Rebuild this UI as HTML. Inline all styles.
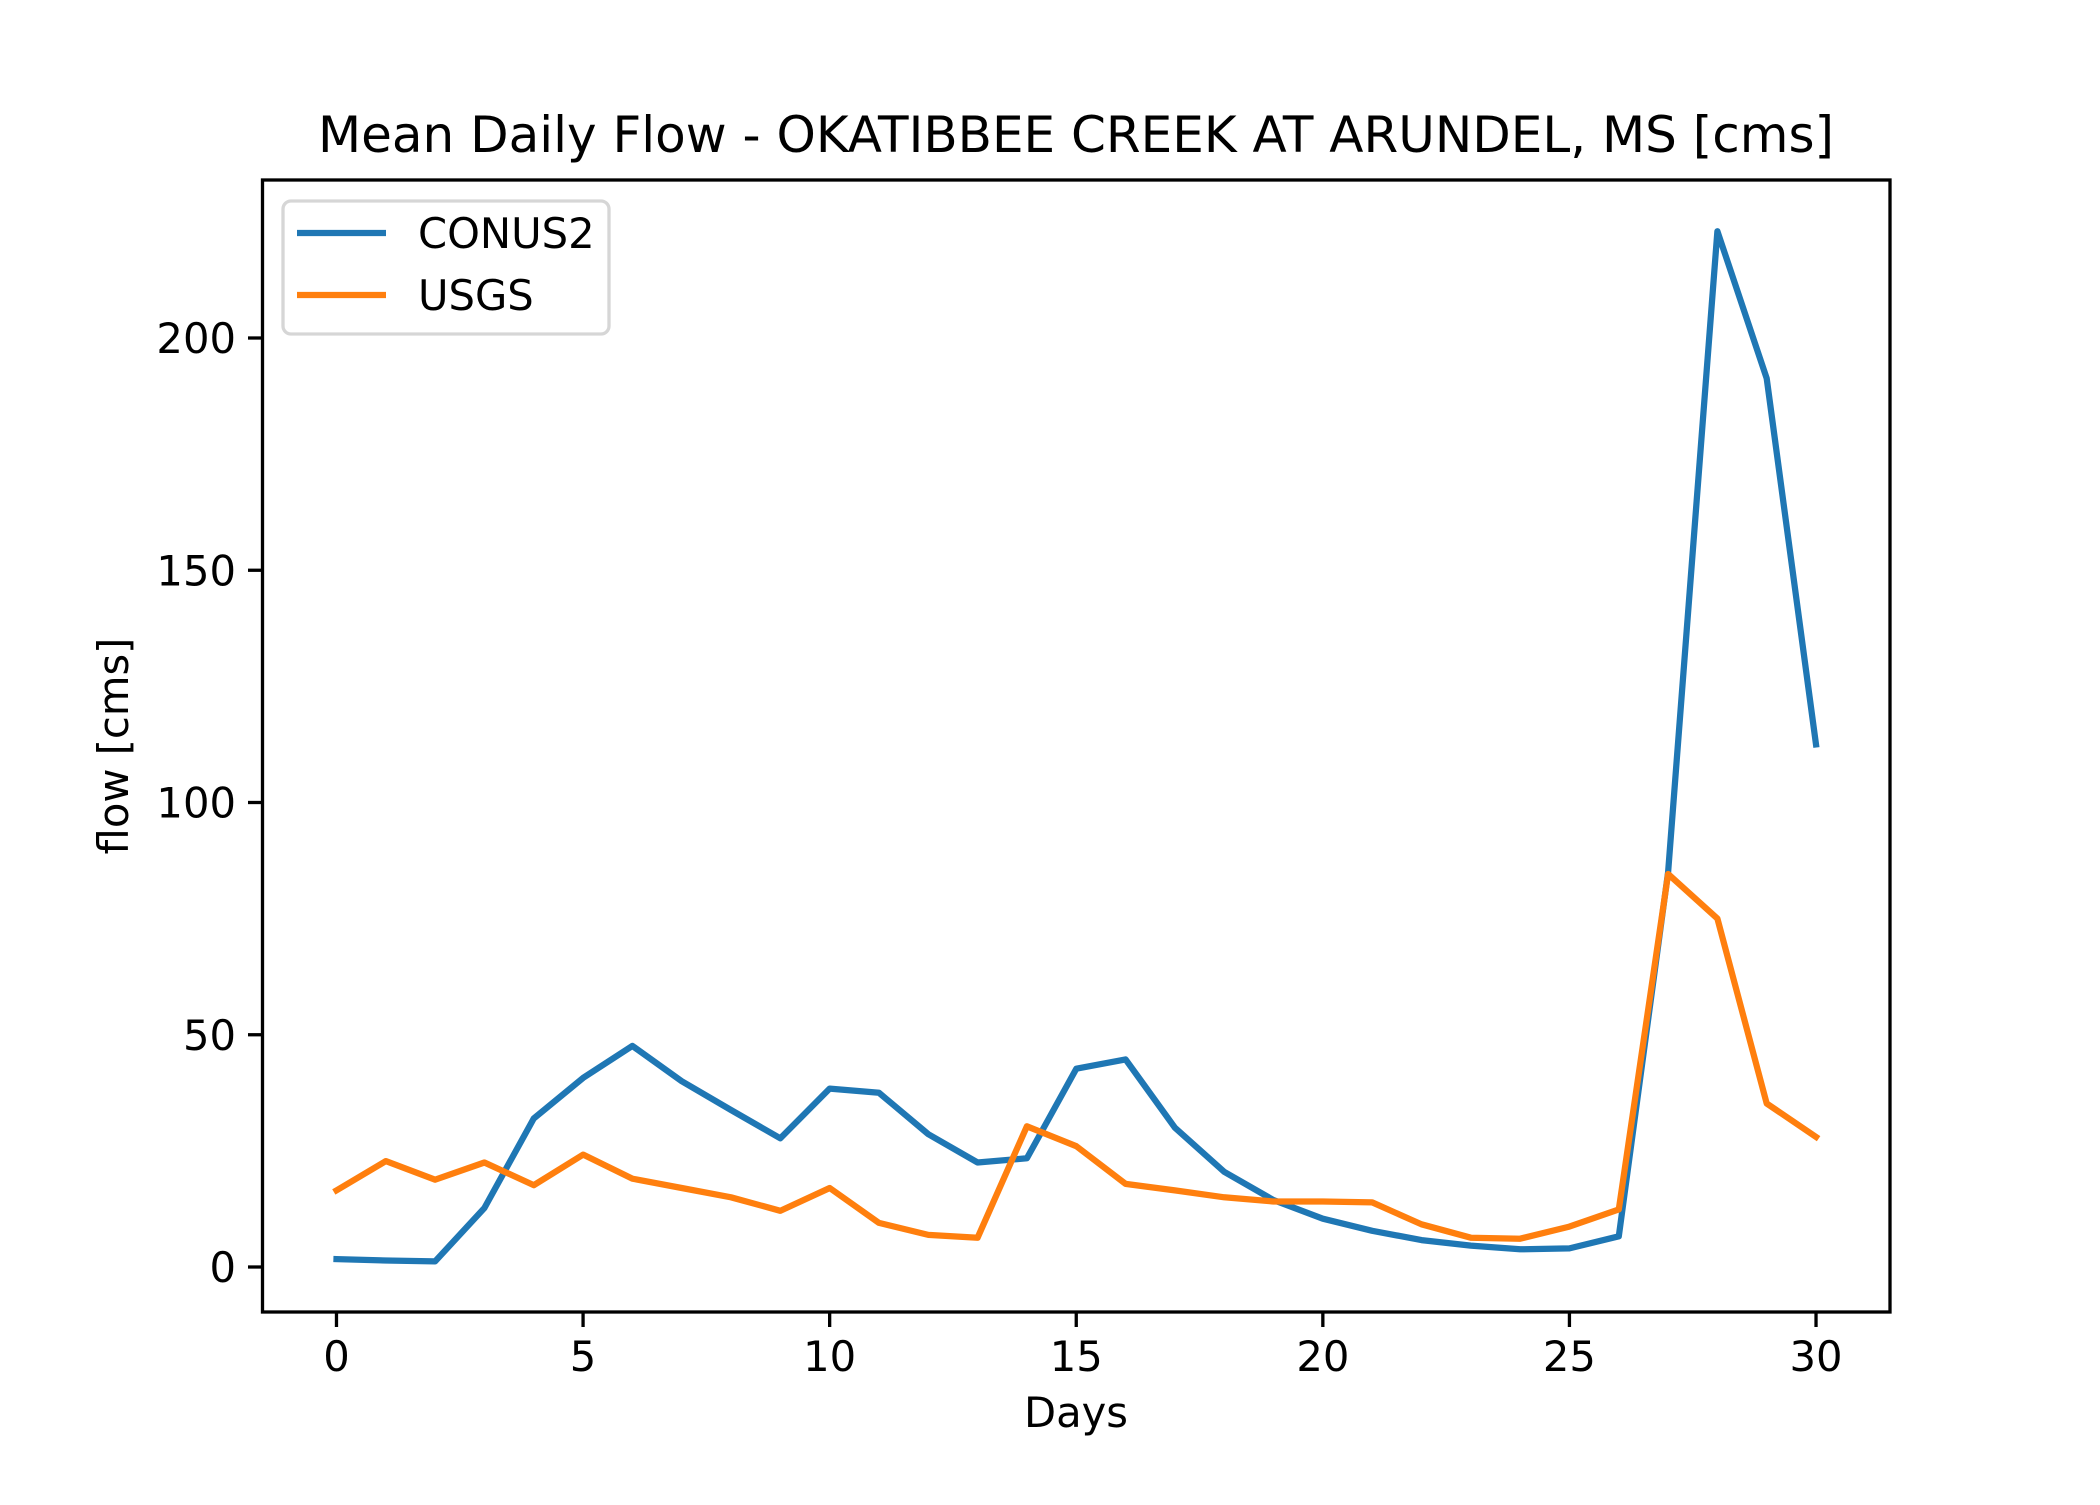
<!DOCTYPE html>
<html><head><meta charset="utf-8"><style>
html,body{margin:0;padding:0;background:#fff;}
svg text{font-family:"DejaVu Sans","Liberation Sans",sans-serif;fill:#000;}
</style></head><body>
<svg id="chart" width="2100" height="1500" viewBox="0 0 2100 1500" xmlns="http://www.w3.org/2000/svg">
<rect width="2100" height="1500" fill="#fff"/>
<text x="1076" y="152" font-size="50" text-anchor="middle">Mean Daily Flow - OKATIBBEE CREEK AT ARUNDEL, MS [cms]</text>
<g id="series"></g>
<rect x="262.5" y="180" width="1627.5" height="1132" fill="none" stroke="#000" stroke-width="3.3"/>
<g id="xticks"></g><g id="yticks"></g>
<text x="1076" y="1427" font-size="41.7" text-anchor="middle">Days</text>
<text transform="translate(128,746) rotate(-90)" font-size="41.7" text-anchor="middle">flow [cms]</text>
<g>
<rect x="283" y="201" width="326" height="133" rx="8" fill="#fff" fill-opacity="0.8" stroke="#d6d6d6" stroke-width="3.3"/>
<line x1="297" y1="233" x2="386" y2="233" stroke="#1f77b4" stroke-width="6.25"/>
<text x="418" y="248" font-size="41.7">CONUS2</text>
<line x1="297" y1="295" x2="386" y2="295" stroke="#ff7f0e" stroke-width="6.25"/>
<text x="418" y="310" font-size="41.7">USGS</text>
</g>
</svg>
<script>
const days = [0,1,2,3,4,5,6,7,8,9,10,11,12,13,14,15,16,17,18,19,20,21,22,23,24,25,26,27,28,29,30];
const conus2 = [1.7,1.4,1.2,12.7,32,40.7,47.6,40,33.8,27.7,38.4,37.5,28.6,22.5,23.4,42.7,44.7,30,20.5,14.4,10.4,7.8,5.8,4.6,3.8,4,6.6,85,223,191.3,112.5];
const usgs = [16.5,22.8,18.8,22.5,17.6,24.2,19,17,15,12.1,17,9.5,6.9,6.3,30.3,26,17.9,16.5,15,14.1,14.1,13.9,9.2,6.3,6.1,8.7,12.4,84.6,75,35.2,28];
const xTickValues = [0,5,10,15,20,25,30];
const yTickValues = [0,50,100,150,200];

const NS = "http://www.w3.org/2000/svg";
function xs(v){ return 262.5 + (v + 1.5) / 33 * 1627.5; }
function ys(v){ return 1267 - v * 4.645; }
function mk(tag, attrs, parent){
  const e = document.createElementNS(NS, tag);
  for (const k in attrs) e.setAttribute(k, attrs[k]);
  parent.appendChild(e);
  return e;
}
const sg = document.getElementById('series');
function drawLine(vals, color, name){
  const pts = vals.map((v,i)=>xs(days[i]).toFixed(1)+','+ys(v).toFixed(1)).join(' ');
  const pl = mk('polyline', {points: pts, fill:'none', stroke: color, 'stroke-width': 6.25, 'stroke-linejoin':'round', 'stroke-linecap':'square'}, sg);
  
  
}
drawLine(conus2, '#1f77b4', 'line-conus2');
drawLine(usgs, '#ff7f0e', 'line-usgs');

const xg = document.getElementById('xticks');
xTickValues.forEach(v=>{
  const x = xs(v);
  const t = mk('line', {x1:x, y1:1312, x2:x, y2:1327, stroke:'#000', 'stroke-width':3.3}, xg);
  
  
  const l = mk('text', {x:x, y:1371, 'font-size':41.7, 'text-anchor':'middle'}, xg);
  l.textContent = v;
  
  
});
const yg = document.getElementById('yticks');
yTickValues.forEach(v=>{
  const y = ys(v);
  const t = mk('line', {x1:248, y1:y, x2:262.5, y2:y, stroke:'#000', 'stroke-width':3.3}, yg);
  
  
  const l = mk('text', {x:236, y:y+15, 'font-size':41.7, 'text-anchor':'end'}, yg);
  l.textContent = v;
  
  
});
</script>
</body></html>
